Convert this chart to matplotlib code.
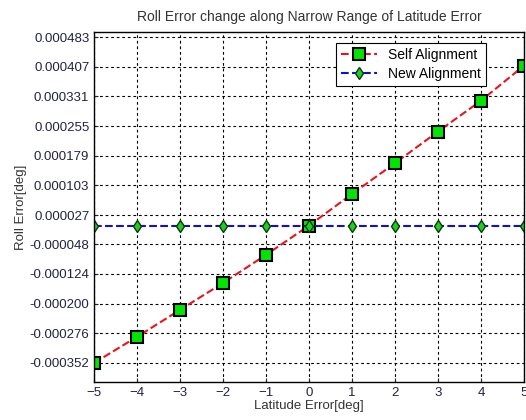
import numpy as np
import matplotlib
matplotlib.use('Agg')
import matplotlib.pyplot as plt

plt.rcParams['font.family'] = ['Liberation Sans', 'DejaVu Sans']

lat_error = [-5, -4, -3, -2, -1, 0, 1, 2, 3, 4, 5]
self_align = [-0.000352, -0.000285, -0.000216, -0.000147, -0.000075, 0.0,
              0.000081, 0.000160, 0.000241, 0.000320, 0.000410]
new_align = [0.0, 0.0, 0.0, 0.0, 0.0, 0.0, 0.0, 0.0, 0.0, 0.0, 0.0]
y_ticks = [-0.000352, -0.000276, -0.000200, -0.000124, -0.000048, 0.000027,
           0.000103, 0.000179, 0.000255, 0.000331, 0.000407, 0.000483]
y_labels = ['-0.000352', '-0.000276', '-0.000200', '-0.000124', '-0.000048', '0.000027',
            '0.000103', '0.000179', '0.000255', '0.000331', '0.000407', '0.000483']

fig = plt.figure(figsize=(5.26, 4.2), dpi=100)
ax = fig.add_axes([0.179, 0.0905, 0.817, 0.833])

ax.plot(lat_error, self_align, '--', color='#e8141c', lw=1.5,
        marker='s', ms=9, mfc='#00e600', mec='black', mew=1.5, label='Self Alignment')
ax.plot(lat_error, new_align, '--', color='#1010c8', lw=1.5,
        marker='d', ms=6.5, mfc='#22cc22', mec='#0a3a0a', mew=1.0, label='New Alignment')

ax.set_xlim(-5, 5)
ax.set_ylim(-0.000401, 0.000496)
ax.set_xticks(lat_error)
ax.set_yticks(y_ticks)
ax.set_yticklabels(y_labels)
ax.tick_params(labelsize=9.5, colors='#222244', direction='in', length=3)
ax.grid(True, color='black', linestyle=(0, (2.5, 2.5)), lw=0.8)
for s in ax.spines.values():
    s.set_linewidth(1.0)

ax.set_title('Roll Error change along Narrow Range of Latitude Error', fontsize=10, color='#333333', pad=8)
ax.set_xlabel('Latitude Error[deg]', fontsize=9.5, color='#333333', labelpad=1)
ax.set_ylabel('Roll Error[deg]', fontsize=9.5, color='#333333', labelpad=2)

leg = ax.legend(loc='upper right', fontsize=10, fancybox=False, framealpha=1,
                edgecolor='black', bbox_to_anchor=(0.912, 0.969), borderaxespad=0,
                handlelength=2.6, borderpad=0.35, labelspacing=0.35)
leg.get_frame().set_linewidth(0.8)

fig.savefig('out.png', dpi=100)
